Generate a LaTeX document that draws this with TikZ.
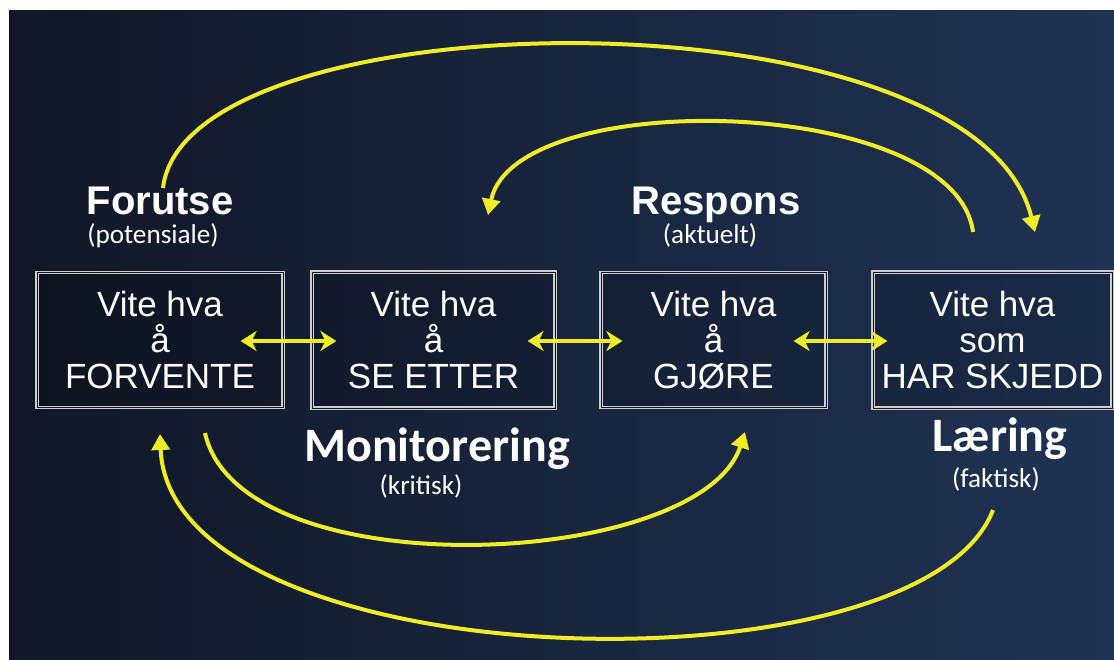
\documentclass[tikz,border=0pt]{standalone}
\usepackage{fontspec}
\setmainfont{Liberation Sans}
\newfontfamily\calib{Carlito}
\usetikzlibrary{arrows.meta,calc}
\definecolor{bgl}{RGB}{16,23,38}
\definecolor{bgm}{RGB}{26,40,66}
\definecolor{bgr}{RGB}{31,51,84}
\definecolor{ylw}{RGB}{240,236,40}
\definecolor{frame}{RGB}{205,205,205}
\begin{document}
\begin{tikzpicture}[x=0.5pt,y=-0.5pt,
  stepbox/.style={draw=frame, double=bgl, double distance=0.5pt, line width=0.6pt,
    fill=black, fill opacity=0.15, text opacity=1, text=white, align=center,
    font=\fontsize{17.5}{18}\selectfont, inner sep=0pt},
  headlbl/.style={text=white, anchor=base, font=\bfseries\fontsize{20}{24}\selectfont},
  headlblc/.style={text=white, anchor=base, font=\calib\bfseries\fontsize{24}{28}\selectfont},
  sublbl/.style={text=white, anchor=base, font=\calib\fontsize{13.6}{16}\selectfont},
  loop/.style={draw=ylw, line width=2pt, -{Triangle[length=8pt,width=9pt]}},
  link/.style={draw=ylw, line width=2.2pt,
    {Stealth[length=8pt,width=10pt,inset=2.5pt]}-{Stealth[length=8pt,width=10pt,inset=2.5pt]}}]

% page and background
\useasboundingbox (0,0) rectangle (1114,659);
\fill[white] (0,0) rectangle (1114,659);
\shade[left color=bgl, middle color=bgm, right color=bgr] (9,10) rectangle (1114,659);

% the four boxes
\node[stepbox, minimum width=123pt, minimum height=67.5pt] (b1) at (160,340)
  {Vite hva\\å\\FORVENTE};
\node[stepbox, minimum width=121.5pt, minimum height=68pt] (b2) at (433.5,340)
  {Vite hva\\å\\SE ETTER};
\node[stepbox, minimum width=112.5pt, minimum height=67.5pt] (b3) at (713.5,340)
  {Vite hva\\å\\GJØRE};
\node[stepbox, minimum width=119.5pt, minimum height=68pt] (b4) at (992.5,340)
  {Vite hva\\som\\HAR SKJEDD};

% headings
\node[headlbl] (forutse) at (160,214) {Forutse};
\node[sublbl] (pot) at (153,243) {(potensiale)};
\node[headlbl] (respons) at (716,214) {Respons};
\node[sublbl] (akt) at (710,243) {(aktuelt)};
\node[headlblc] (monit) at (437,461) {Monitorering};
\node[sublbl] (krit) at (421,494) {(kritisk)};
\node[headlblc] (laering) at (1000,451) {Læring};
\node[sublbl] (fakt) at (996,487) {(faktisk)};

% links between neighbouring boxes
\draw[link] ([xshift=-21.5pt,yshift=-0.5pt]b1.east) -- ([xshift=12.5pt,yshift=-0.5pt]b2.west);
\draw[link] ([xshift=-14pt,yshift=-0.5pt]b2.east) -- ([xshift=11pt,yshift=-0.5pt]b3.west);
\draw[link] ([xshift=-16.5pt,yshift=-0.5pt]b3.east) -- ([xshift=7.5pt,yshift=-0.5pt]b4.west);

% feedback loops
\coordinate (l1s) at (163,188);
\coordinate (l1e) at (1035,232);
\coordinate (l2s) at (973,232);
\coordinate (l2e) at (488,215);
\coordinate (l3s) at (993,510);
\coordinate (l3e) at (160,434);
\coordinate (l4s) at (205,433);
\coordinate (l4e) at (745,432);
\draw[loop] (l1s) .. controls (185,-5) and (975,-15) .. (l1e);
\draw[loop] (l2s) .. controls (955,95) and (515,85) .. (l2e);
\draw[loop] (l3s) .. controls (920,700) and (170,680) .. (l3e);
\draw[loop] (l4s) .. controls (240,590) and (700,570) .. (l4e);
\end{tikzpicture}
\end{document}
